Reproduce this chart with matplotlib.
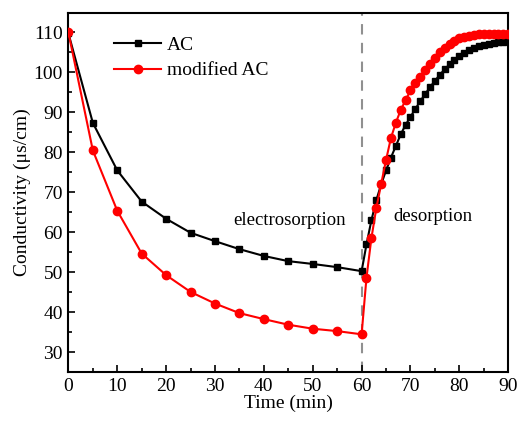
import numpy as np
import matplotlib.pyplot as plt
from matplotlib.ticker import MultipleLocator

plt.rcParams['font.family'] = ['Liberation Serif', 'DejaVu Serif']

# electrosorption stage (every 5 min)
t_ads = [0, 5, 10, 15, 20, 25, 30, 35, 40, 45, 50, 55, 60]
ac_ads = [109.8, 87.4, 75.5, 67.7, 63.4, 59.9, 57.8, 55.8, 54.1, 52.8, 52.1, 51.3, 50.3]
mod_ads = [110.0, 80.5, 65.4, 54.7, 49.3, 45.1, 42.2, 39.8, 38.3, 36.9, 35.9, 35.3, 34.5]

# desorption stage (every 1 min)
t_des = list(range(61, 91))
ac_des = [57.0, 63.0, 68.0, 72.0, 75.5, 78.7, 81.6, 84.5, 86.9, 88.9, 90.9, 92.8, 94.6,
          96.3, 97.9, 99.4, 100.8, 102.0, 103.1, 104.0, 104.8, 105.5, 106.0, 106.5,
          106.9, 107.2, 107.4, 107.6, 107.7, 107.8]
mod_des = [48.7, 58.5, 66.0, 72.1, 78.1, 83.6, 87.4, 90.6, 93.1, 95.5, 97.3, 98.9, 100.5,
           102.1, 103.5, 105.0, 106.0, 107.0, 107.9, 108.5, 108.9, 109.2, 109.4, 109.5,
           109.5, 109.5, 109.5, 109.5, 109.5, 109.5]

t = t_ads + t_des
ac = ac_ads + ac_des
mod = mod_ads + mod_des

fig = plt.figure(figsize=(5.17, 4.21), dpi=100)
ax = fig.add_axes([0.1323, 0.1157, 0.8507, 0.8546])

ax.axvline(60, color='#909090', ls=(0, (5, 4)), lw=1.5, zorder=1)
ax.plot(t, ac, color='black', marker='s', ms=5, lw=1.5, label='AC', zorder=2)
ax.plot(t, mod, color='red', marker='o', ms=6, lw=1.5, label='modified AC', zorder=3)

ax.set_xlim(0, 90)
ax.set_ylim(25, 115)
ax.xaxis.set_major_locator(MultipleLocator(10))
ax.xaxis.set_minor_locator(MultipleLocator(5))
ax.yaxis.set_major_locator(MultipleLocator(10))
ax.yaxis.set_minor_locator(MultipleLocator(5))
ax.set_yticks(np.arange(30, 111, 10))
ax.tick_params(which='major', direction='in', length=5, width=1.2, labelsize=14, pad=4)
ax.tick_params(which='minor', direction='in', length=3, width=1.2)
for s in ax.spines.values():
    s.set_linewidth(1.5)

ax.set_xlabel('Time (min)', fontsize=14, labelpad=0)
ax.set_ylabel('Conductivity (μs/cm)', fontsize=14, labelpad=2)

ax.text(45.3, 62.9, 'electrosorption', fontsize=13.5, ha='center', va='center')
ax.text(74.5, 63.9, 'desorption', fontsize=13.5, ha='center', va='center')

ax.legend(loc='upper left', bbox_to_anchor=(0.065, 0.982), frameon=False, fontsize=14,
          handlelength=2.4, labelspacing=0.4, handletextpad=0.3)

fig.savefig('out.png', dpi=100)
